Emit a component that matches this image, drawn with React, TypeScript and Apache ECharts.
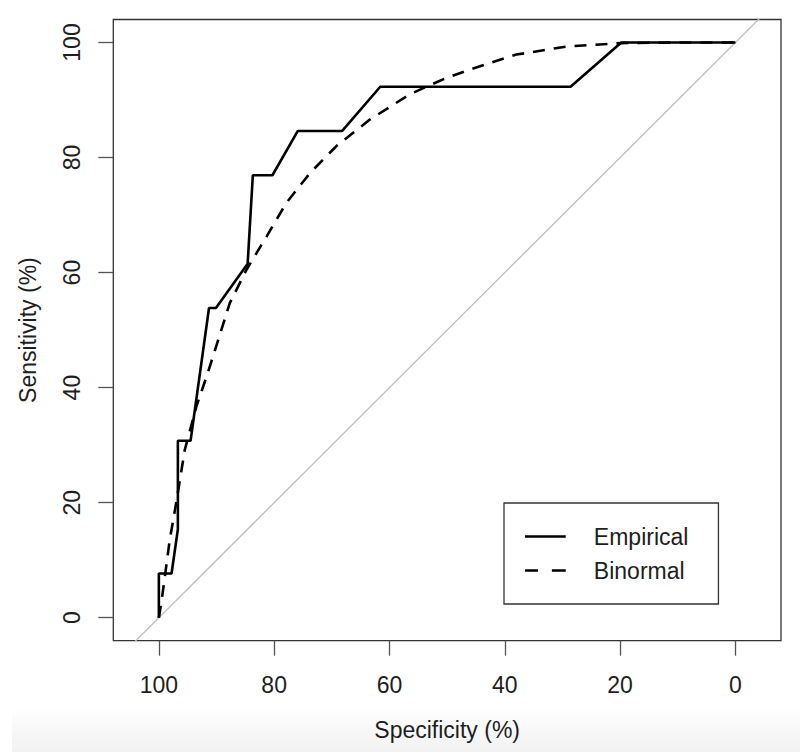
import React, { useEffect, useRef } from "react";
import * as echarts from "echarts";

// Specificity (%) / Sensitivity (%) pairs
const empiricalSpec = [100, 100, 97.8, 96.7, 96.7, 94.5, 91.3, 90.1, 84.6, 83.7, 80.3, 75.9, 68.2, 61.6, 28.6, 19.8, 0];
const empiricalSens = [0, 7.69, 7.69, 15.38, 30.77, 30.77, 53.85, 53.85, 61.54, 76.92, 76.92, 84.62, 84.62, 92.31, 92.31, 100, 100];

const binormalSpec = [100, 99.5, 98.1, 96.9, 95.5, 93.5, 91.5, 89.7, 87.7, 84.8, 81.3, 77.9, 73.8, 69.2, 63.4, 56.5, 50.7, 46.1, 38.0, 29.3, 19.8, 10, 0];
const binormalSens = [0, 3.1, 13.6, 20.5, 29.2, 36.7, 42.6, 48.3, 54.7, 60.5, 66.3, 72.1, 77.3, 82.0, 86.6, 91.0, 93.6, 95.3, 97.9, 99.3, 99.9, 100, 100];

// chance diagonal (sensitivity = 100 - specificity), clipped by the plot box
const diagonalSpec = [120, -20];
const diagonalSens = [-20, 120];

const tickValues = [0, 20, 40, 60, 80, 100];
const seriesNames = ["Empirical", "Binormal"];

const FONT = "Liberation Sans, Arial, sans-serif";
const TXT = "#1e1e1e";

export default function App() {
  const ref = useRef<HTMLDivElement>(null);
  useEffect(() => {
    if (!ref.current) return;
    const chart = echarts.init(ref.current, undefined, { renderer: "svg" });
    const zip = (a: number[], b: number[]) => a.map((v, i) => [v, b[i]]);
    chart.setOption({
      animation: false,
      backgroundColor: "#ffffff",
      textStyle: { fontFamily: FONT },
      graphic: [
        {
          type: "rect",
          z: -1,
          silent: true,
          shape: { x: 12, y: 707, width: 788, height: 45 },
          style: {
            fill: new echarts.graphic.LinearGradient(0, 0, 0, 1, [
              { offset: 0, color: "#ffffff" },
              { offset: 1, color: "#f1f1f1" },
            ]),
          },
        },
      ],
      grid: {
        left: 113.3,
        right: 19,
        top: 19.5,
        bottom: 111.3,
        show: true,
        borderColor: "#333333",
        borderWidth: 1.3,
        backgroundColor: "transparent",
      },
      legend: {
        orient: "vertical",
        left: 504,
        top: 503,
        data: [
          { name: seriesNames[0], icon: "path://M0,0h47v3h-47z" },
          { name: seriesNames[1], icon: "path://M0,0h15v3h-15zM31,0h16v3h-16z" },
        ],
        borderColor: "#333333",
        borderWidth: 1.3,
        borderRadius: 0,
        padding: [22, 30, 22, 21],
        itemWidth: 47,
        itemHeight: 2.6,
        itemGap: 11,
        itemStyle: { color: "#000000", borderWidth: 0 },
        textStyle: { fontSize: 23, fontFamily: FONT, color: TXT, lineHeight: 23, padding: [0, 0, 0, 20] },
      },
      xAxis: {
        type: "value",
        inverse: true,
        min: -7.9,
        max: 107.9,
        name: "Specificity (%)",
        nameLocation: "middle",
        nameGap: 78,
        nameTextStyle: { fontSize: 23, color: TXT, fontFamily: FONT },
        axisLine: { show: false, onZero: false },
        axisTick: {
          show: true,
          length: 15,
          lineStyle: { color: "#555555", width: 1.3 },
          customValues: tickValues,
        },
        axisLabel: {
          fontSize: 23,
          color: TXT,
          margin: 33,
          fontFamily: FONT,
          customValues: tickValues,
        },
        splitLine: { show: false },
      },
      yAxis: {
        type: "value",
        min: -4,
        max: 104,
        name: "Sensitivity (%)",
        nameLocation: "middle",
        nameRotate: 90,
        nameGap: 74,
        nameTextStyle: { fontSize: 23, color: TXT, fontFamily: FONT },
        axisLine: { show: false, onZero: false },
        axisTick: {
          show: true,
          length: 15,
          lineStyle: { color: "#555555", width: 1.3 },
          customValues: tickValues,
        },
        axisLabel: {
          fontSize: 23,
          color: TXT,
          rotate: 90,
          margin: 30,
          align: "center",
          verticalAlign: "bottom",
          fontFamily: FONT,
          customValues: tickValues,
        },
        splitLine: { show: false },
      },
      series: [
        {
          name: "diagonal",
          type: "line",
          data: zip(diagonalSpec, diagonalSens),
          showSymbol: false,
          symbol: "none",
          clip: true,
          silent: true,
          lineStyle: { color: "#bdbdbd", width: 1.3 },
          z: 1,
        },
        {
          name: seriesNames[0],
          type: "line",
          data: zip(empiricalSpec, empiricalSens),
          symbol: "none",
          showSymbol: false,
          lineStyle: { color: "#000000", width: 2.6, type: "solid" },
          itemStyle: { color: "#000000" },
          z: 3,
        },
        {
          name: seriesNames[1],
          type: "line",
          data: zip(binormalSpec, binormalSens),
          symbol: "none",
          showSymbol: false,
          smooth: false,
          lineStyle: { color: "#000000", width: 2.6, type: [12, 9] },
          itemStyle: { color: "#000000" },
          z: 2,
        },
      ],
    });
    return () => chart.dispose();
  }, []);
  return (
    <div
      ref={ref}
      style={{ position: "fixed", left: 0, top: 0, width: 800, height: 752 }}
    />
  );
}
